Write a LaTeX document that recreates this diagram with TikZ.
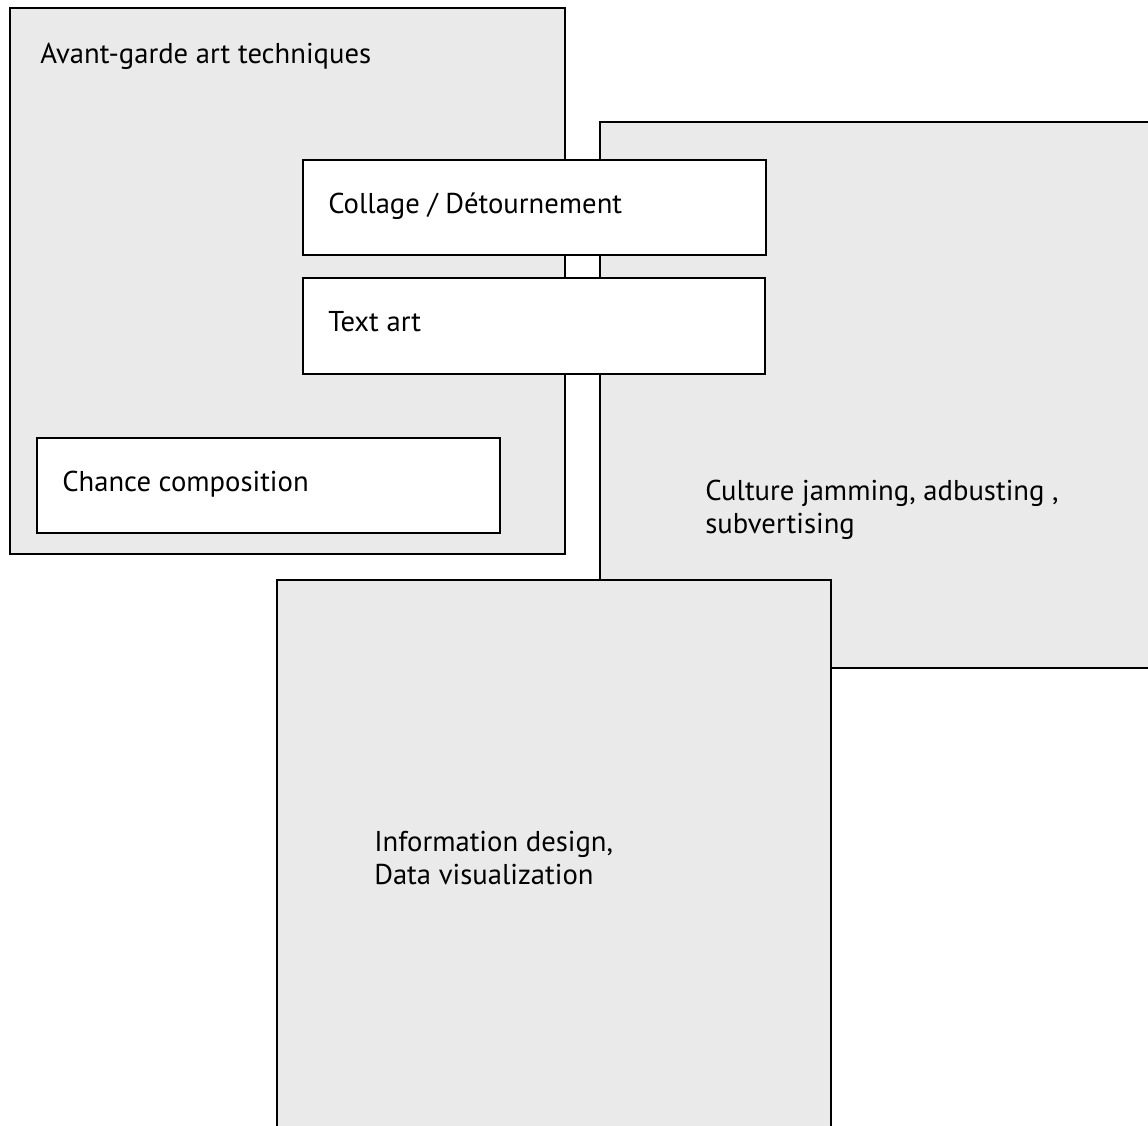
\documentclass[tikz,border=0pt]{standalone}
\usepackage{fontspec}
\setmainfont{PT Sans}
\definecolor{boxgray}{HTML}{EAEAEA}
\begin{document}
\begin{tikzpicture}[x=0.75pt,y=-0.75pt,
  panel/.style={draw=black,line width=1.5pt,fill=boxgray,inner sep=0pt,anchor=north west},
  wbox/.style={draw=black,line width=1.5pt,fill=white,inner sep=0pt,anchor=north west},
  lbl/.style={anchor=base west,inner sep=0pt,font=\fontsize{21.5}{24.5}\selectfont,align=left}]
\useasboundingbox (0,0) rectangle (1148,1125);
\clip (0,0) rectangle (1148,1125);
% panels
\node[panel,minimum width=555*0.75pt,minimum height=546*0.75pt] (avant) at (8.5,6.5) {};
\node[wbox,minimum width=463*0.75pt,minimum height=95*0.75pt] (chance) at (36,437) {};
\node[panel,minimum width=600*0.75pt,minimum height=546*0.75pt] (culture) at (599,121) {};
\node[panel,minimum width=554*0.75pt,minimum height=600*0.75pt] (info) at (276,579) {};
\node[wbox,minimum width=463*0.75pt,minimum height=95*0.75pt] (collage) at (302,159) {};
\node[wbox,minimum width=462*0.75pt,minimum height=96*0.75pt] (textart) at (302,277) {};
% labels (base anchor of a two-line label = baseline of its last line)
\node[lbl] (avantT) at (40,63) {Avant-garde art techniques};
\node[lbl] (chanceT) at (62,491) {Chance composition};
\node[lbl] (collageT) at (328,213) {Collage / Détournement};
\node[lbl] (textartT) at (328,331) {Text art};
\node[lbl] (cultureT) at (705,533) {Culture jamming, adbusting ,\\subvertising};
\node[lbl] (infoT) at (374,884) {Information design,\\Data visualization};
\end{tikzpicture}
\end{document}
